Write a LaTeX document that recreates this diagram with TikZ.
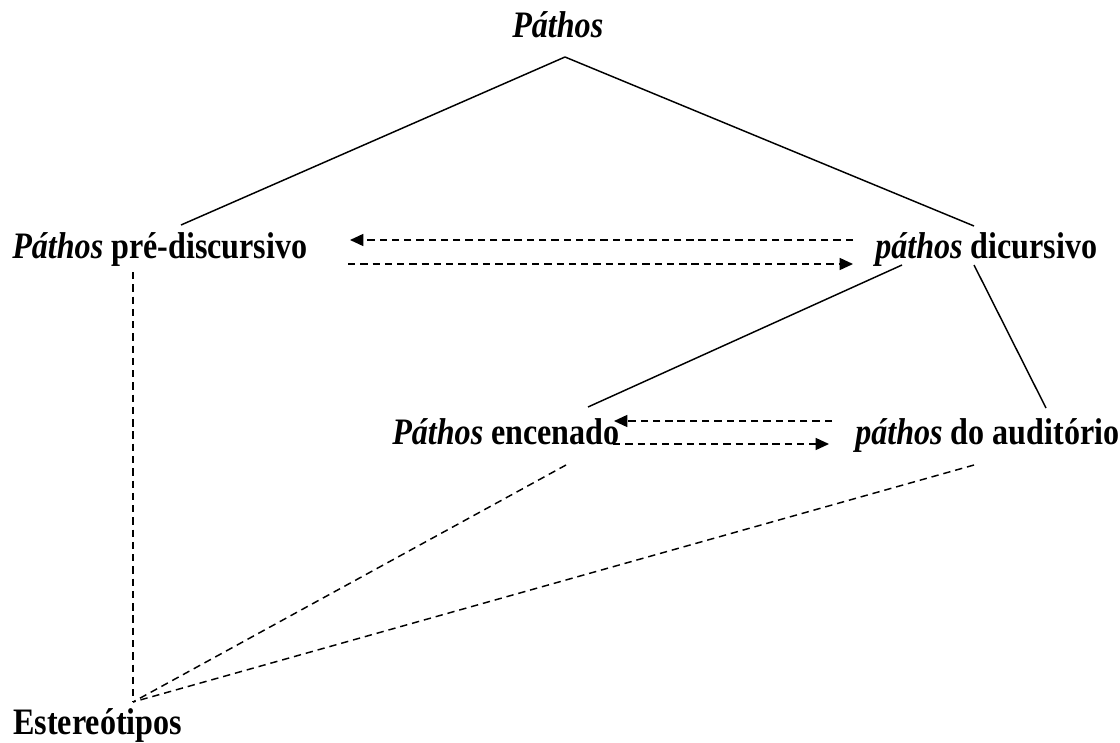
\documentclass[tikz,border=0pt]{standalone}
\usepackage{fontspec}
\setmainfont{Liberation Serif}[FakeStretch=0.86]
\usepackage{tikz}
\usetikzlibrary{calc, positioning, arrows.meta}
\newcommand\pt[1]{\textit{#1}}
\tikzset{
  lbl/.style={inner sep=0pt, anchor=base west, font=\fontsize{28}{32}\selectfont\bfseries},
  link/.style={line width=1.1pt},
  dlink/.style={line width=1.1pt, dash pattern=on 5.5pt off 3.7pt},
  darrow/.style={dlink, -{Triangle[length=10pt, width=9pt]}}
}

\begin{document}
\begin{tikzpicture}[x=0.75pt, y=-0.75pt]
\useasboundingbox (0,0) rectangle (1120,742);

\node[lbl] (top) at (512,38) {\pt{Páthos}};
\node[lbl] (pre) at (12,258) {\pt{Páthos} pré-discursivo};
\node[lbl] (disc) at (875,258) {\pt{páthos} dicursivo};
\node[lbl] (enc) at (392,444) {\pt{Páthos} encenado};
\node[lbl] (aud) at (855,444) {\pt{páthos} do auditório};
\node[lbl] (est) at (13,734) {Estereótipos};

\coordinate (apex) at (565,57);
\coordinate (pre-n) at (181,225);
\coordinate (disc-n) at (974,226);
\coordinate (disc-sw) at (902,265);
\coordinate (disc-se) at (974,265);
\coordinate (enc-n) at (588,407);
\coordinate (aud-n) at (1046,408);
\coordinate (pre-s) at (133,272);
\coordinate (enc-s) at (566,465);
\coordinate (aud-s) at (974,465);
\coordinate (est-n) at (133,702);

\draw[link] (apex) -- (pre-n);
\draw[link] (apex) -- (disc-n);
\draw[link] (disc-sw) -- (enc-n);
\draw[link] (disc-se) -- (aud-n);

\draw[darrow] (853,240) -- (350,240);
\draw[darrow] (348,264) -- (853,264);
\draw[darrow] (832,421) -- (614,421);
\draw[darrow] (613,444) -- (829,444);

\draw[dlink] (pre-s) -- (est-n);
\draw[dlink] (enc-s) -- (est-n);
\draw[dlink] (aud-s) -- (est-n);
\end{tikzpicture}
\end{document}
